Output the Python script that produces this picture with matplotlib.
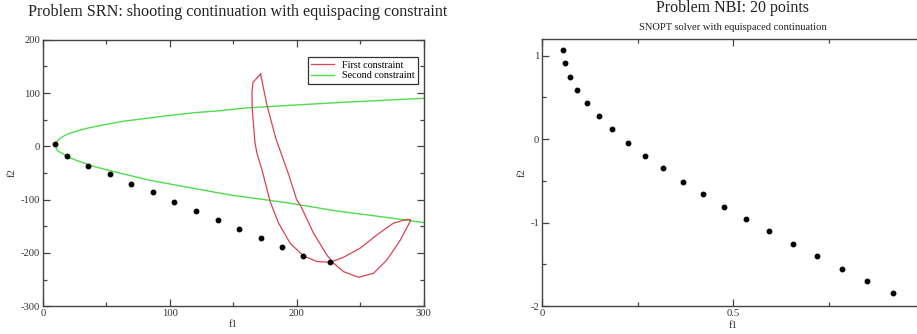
import matplotlib
matplotlib.use("Agg")
import matplotlib.pyplot as plt
from matplotlib.ticker import MultipleLocator
from matplotlib.lines import Line2D

plt.rcParams['font.family'] = ['Liberation Serif', 'DejaVu Serif']
plt.rcParams['axes.unicode_minus'] = False

# ---- Left panel data (Problem SRN) ----
srn_f1 = [9.5, 18.9, 35.5, 52.5, 69.3, 86.4, 103.2, 120.3, 137.6, 154.2, 171.5, 188.1, 205.1, 226.4]
srn_f2 = [3.7, -18.8, -36.3, -52.5, -70.0, -86.3, -103.8, -121.9, -138.1, -155.6, -172.5, -189.4, -206.3, -217.5]

first_f1 = [171.5, 176.5, 183.5, 193.8, 200.0, 202.8, 213.3, 223.8, 229.0, 236.9, 248.8, 260.6, 271.1, 281.6, 290.0,
            286.8, 276.3, 263.2, 250.0, 236.9, 226.4, 215.9, 205.4, 194.9, 185.7, 179.1, 172.6, 168.6, 167.0,
            164.9, 164.7, 165.5, 171.5]
first_f2 = [135.6, 77.5, 15.0, -54.0, -100.6, -110.0, -163.0, -204.0, -219.0, -235.0, -245.6, -238.0, -213.0, -176.0, -138.0,
            -137.0, -144.0, -166.0, -191.0, -208.0, -217.5, -216.0, -205.7, -182.0, -144.0, -104.0, -44.0, -13.0, 8.6,
            71.0, 102.0, 120.0, 135.6]

second_f1 = [300.0, 291.0, 240.0, 195.0, 160.0, 140.0, 119.0, 100.0, 80.0, 63.0, 45.0, 35.0, 27.0, 21.0, 16.5, 13.0, 11.0, 10.1,
             10.5, 12.0, 15.0, 20.0, 26.0, 39.0, 55.0, 83.0, 110.0, 147.0, 190.0, 231.0, 270.0, 300.0]
second_f2 = [90.0, 89.0, 83.0, 77.0, 72.0, 67.0, 63.0, 58.0, 52.0, 47.0, 39.0, 34.0, 29.0, 24.5, 19.5, 14.0, 9.0, 2.6,
             -4.0, -9.0, -13.0, -20.0, -26.0, -37.0, -47.0, -63.0, -75.0, -91.0, -105.0, -121.0, -133.0, -143.0]

# ---- Right panel data (Problem NBI) ----
nbi_f1 = [0.056, 0.059, 0.072, 0.092, 0.118, 0.148, 0.184, 0.225, 0.270, 0.317,
          0.368, 0.421, 0.476, 0.534, 0.595, 0.656, 0.720, 0.785, 0.850, 0.919]
nbi_f2 = [1.068, 0.908, 0.744, 0.588, 0.428, 0.272, 0.116, -0.044, -0.200, -0.348,
          -0.508, -0.656, -0.808, -0.956, -1.104, -1.256, -1.404, -1.556, -1.696, -1.848]

W, H = 917, 334
fig = plt.figure(figsize=(W / 100, H / 100), dpi=100)

spine_c = '#444444'
text_c = '#333333'
red = '#d9434f'
green = '#4fdc4f'


def style_axes(ax):
    for s in ax.spines.values():
        s.set_color(spine_c)
        s.set_linewidth(1.0)
    ax.tick_params(which='both', direction='in', top=True, right=True,
                   colors=spine_c, labelcolor=text_c, labelsize=7.7, width=0.9)
    ax.tick_params(which='major', length=5, pad=2)
    ax.tick_params(which='minor', length=3)


# Left axes
ax1 = fig.add_axes([43 / W, 1 - 306.3 / H, 380.6 / W, 266.6 / H])
ax1.plot(second_f1, second_f2, color=green, lw=1.0)
ax1.plot(first_f1, first_f2, color=red, lw=0.9)
ax1.plot(srn_f1, srn_f2, 'o', color='black', ms=3.2, ls='none')
ax1.set_xlim(0, 300)
ax1.set_ylim(-300, 200)
ax1.xaxis.set_major_locator(MultipleLocator(100))
ax1.xaxis.set_minor_locator(MultipleLocator(50))
ax1.yaxis.set_major_locator(MultipleLocator(100))
ax1.yaxis.set_minor_locator(MultipleLocator(50))
style_axes(ax1)
ax1.set_xlabel('f1', fontsize=7.7, color=text_c)
ax1.set_ylabel('f2', fontsize=7.7, color=text_c)
ax1.xaxis.set_label_coords(0.5, -0.053)
ax1.yaxis.set_label_coords(-0.068, 0.5)
handles = [Line2D([], [], color=red, lw=0.9), Line2D([], [], color=green, lw=1.0)]
leg = ax1.legend(handles, ['First constraint', 'Second constraint'], loc='upper right',
                 bbox_to_anchor=(0.985, 0.935), fontsize=7.3, fancybox=False, framealpha=1,
                 edgecolor='#333333', borderpad=0.35, handlelength=2.2, labelspacing=0.15,
                 handletextpad=0.8, borderaxespad=0)
leg.get_frame().set_linewidth(0.9)

fig.text(238 / W, 1 - 12 / H, 'Problem SRN: shooting continuation with equispacing constraint',
         ha='center', va='center', fontsize=11.6, color='#222222')

# Right axes
ax2 = fig.add_axes([542 / W, 1 - 306 / H, 382 / W, 267 / H])
ax2.plot(nbi_f1, nbi_f2, 'o', color='black', ms=3.2, ls='none')
ax2.set_xlim(0, 1)
ax2.set_ylim(-2, 1.2)
ax2.xaxis.set_major_locator(MultipleLocator(0.5))
ax2.xaxis.set_minor_locator(MultipleLocator(0.25))
ax2.yaxis.set_major_locator(MultipleLocator(1))
ax2.yaxis.set_minor_locator(MultipleLocator(0.5))
style_axes(ax2)
ax2.set_xticks([0, 0.5, 1], ['0', '0.5', ''])
ax2.set_xlabel('f1', fontsize=7.7, color=text_c)
ax2.set_ylabel('f2', fontsize=7.7, color=text_c)
ax2.xaxis.set_label_coords(0.5, -0.057)
ax2.yaxis.set_label_coords(-0.039, 0.5)

fig.text(733 / W, 1 - 8.5 / H, 'Problem NBI: 20 points', ha='center', va='center',
         fontsize=11.5, color='#222222')
fig.text(733 / W, 1 - 27 / H, 'SNOPT solver with equispaced continuation', ha='center', va='center',
         fontsize=7.6, color='#222222')

fig.savefig('out.png', dpi=100)
